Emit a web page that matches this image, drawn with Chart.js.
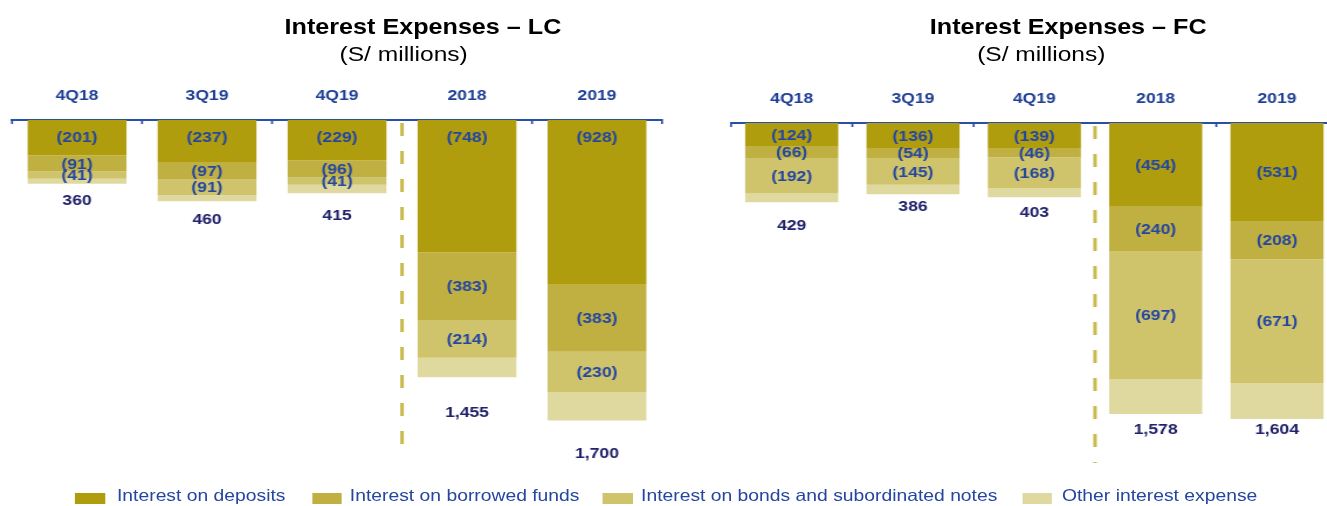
<!DOCTYPE html>
<html>
<head>
<meta charset="utf-8">
<script src="https://cdn.jsdelivr.net/npm/chart.js@4.4.1/dist/chart.umd.min.js"></script>
<style>
  html, body { margin: 0; padding: 0; background: #fff; overflow: hidden; width: 1327px; height: 506px; }
  /* the source slide is stretched horizontally, so the whole stage is too */
  #stage { position: absolute; left: 0; top: 0; width: 1134px; height: 506px;
           transform: scaleX(1.17); transform-origin: 0 0;
           font-family: "Liberation Sans", Arial, sans-serif; }
  .title { position: absolute; top: 16px; font-weight: bold; font-size: 21.5px; line-height: 22px;
           color: #000; white-space: nowrap; transform: translateX(-50%); }
  .sub   { position: absolute; top: 43px; font-size: 21px; line-height: 22px;
           color: #000; white-space: nowrap; transform: translateX(-50%); }
  canvas { position: absolute; top: 0; }
  .sw    { position: absolute; top: 493px; width: 25.6px; height: 11px; }
  .lt    { position: absolute; top: 485px; font-size: 16.5px; line-height: 20px; color: #2446a0; white-space: nowrap; }
</style>
</head>
<body>
<div id="stage">
  <div class="title" style="left:361.5px">Interest Expenses – LC</div>
  <div class="sub" style="left:345px">(S/ millions)</div>
  <div class="title" style="left:913px">Interest Expenses – FC</div>
  <div class="sub" style="left:890px">(S/ millions)</div>
  <canvas id="lcChart" width="580" height="480" style="left:0"></canvas>
  <canvas id="fcChart" width="545" height="480" style="left:610px"></canvas>
  <div id="legend"></div>
</div>

<script>
// ─── Data ────────────────────────────────────────────────
const categories = ['4Q18', '3Q19', '4Q19', '2018', '2019'];
const seriesNames = ['Interest on deposits', 'Interest on borrowed funds',
                     'Interest on bonds and subordinated notes', 'Other interest expense'];

const lcDeposits = [201, 237, 229, 748, 928];
const lcBorrowed = [91, 97, 96, 383, 383];
const lcBonds    = [41, 91, 41, 214, 230];
const lcOther    = [27, 35, 49, 110, 159];
const lcTotals   = [360, 460, 415, 1455, 1700];

const fcDeposits = [124, 136, 139, 454, 531];
const fcBorrowed = [66, 54, 46, 240, 208];
const fcBonds    = [192, 145, 168, 697, 671];
const fcOther    = [47, 51, 50, 187, 194];
const fcTotals   = [429, 386, 403, 1578, 1604];

// ─── Styles ──────────────────────────────────────────────
const colors     = ['#af9d0e', '#c0b042', '#cfc46b', '#dfd9a0'];
const axisBlue   = '#2a4fa8';
const labelBlue  = '#2547a0';
const totalNavy  = '#20216a';
const dashColor  = '#c9ba4c';

// ─── Legend (HTML) ───────────────────────────────────────
const swatchX = [64.1, 266.7, 515.4, 873.5];
const textX   = [100, 299, 547.9, 907.7];
const legend = document.getElementById('legend');
seriesNames.forEach((name, i) => {
  const sw = document.createElement('div');
  sw.className = 'sw';
  sw.style.left = swatchX[i] + 'px';
  sw.style.background = colors[i];
  const t = document.createElement('div');
  t.className = 'lt';
  t.style.left = textX[i] + 'px';
  t.textContent = name;
  legend.appendChild(sw);
  legend.appendChild(t);
});

// ─── Plugin: segment labels, totals, axis ticks, divider ─
const decorations = {
  id: 'decorations',
  afterDatasetsDraw(chart, args, opts) {
    const ctx = chart.ctx;
    const area = chart.chartArea;
    const catW = (area.right - area.left) / categories.length;
    ctx.save();

    // small ticks hanging below the axis line
    ctx.strokeStyle = axisBlue;
    ctx.lineWidth = 1.7;
    for (let k = 0; k <= categories.length; k++) {
      if (k === 3) continue;
      const x = area.left + k * catW;
      ctx.beginPath();
      ctx.moveTo(x, area.top - 1);
      ctx.lineTo(x, area.top + 4);
      ctx.stroke();
    }

    // dashed divider between quarters and years
    const dx = area.left + 3 * catW;
    ctx.strokeStyle = dashColor;
    ctx.lineWidth = 3;
    ctx.setLineDash([13, 15]);
    ctx.beginPath();
    ctx.moveTo(dx, area.top + 3);
    ctx.lineTo(dx, opts.dashEnd);
    ctx.stroke();
    ctx.setLineDash([]);

    ctx.font = 'bold 15px "Liberation Sans", Arial, sans-serif';
    ctx.textAlign = 'center';
    ctx.textBaseline = 'middle';

    // values inside the first three segments
    chart.data.datasets.forEach((ds, i) => {
      if (i > 2) return;
      chart.getDatasetMeta(i).data.forEach((bar, j) => {
        const top = Math.min(bar.y, bar.base);
        let y = (bar.y + bar.base) / 2 + 1;
        if (i === 0 && opts.topAnchor) y = Math.min(y, top + opts.topAnchor);
        ctx.fillStyle = labelBlue;
        ctx.fillText('(' + ds.data[j] + ')', bar.x, y);
      });
    });

    // totals under each bar
    chart.getDatasetMeta(3).data.forEach((bar, j) => {
      const bottom = Math.max(bar.y, bar.base);
      ctx.fillStyle = totalNavy;
      ctx.fillText(opts.totals[j].toLocaleString('en-US'), bar.x, bottom + opts.offsets[j]);
    });

    ctx.restore();
  }
};

function makeStackChart(canvasId, series, totals, cfg) {
  const ctx = document.getElementById(canvasId);
  return new Chart(ctx, {
    type: 'bar',
    data: {
      labels: categories,
      datasets: series.map((data, i) => ({
        label: seriesNames[i],
        data,
        backgroundColor: colors[i],
        borderWidth: 0,
        barPercentage: cfg.barPct,
        categoryPercentage: 1.0,
      }))
    },
    options: {
      responsive: false,
      animation: false,
      devicePixelRatio: 1,
      layout: { padding: { left: cfg.padLeft, right: cfg.padRight, top: cfg.padTop, bottom: 10 } },
      plugins: {
        legend: { display: false },
        tooltip: { enabled: false },
        decorations: { totals, offsets: cfg.offsets, dashEnd: cfg.dashEnd, topAnchor: cfg.topAnchor }
      },
      scales: {
        x: {
          position: 'top',
          stacked: true,
          offset: true,
          afterFit: s => { s.height = 40; },
          grid: { display: false, drawTicks: false },
          border: { display: true, color: axisBlue, width: 2 },
          ticks: { color: '#1f3f94', padding: 15, font: { size: 15, weight: 'bold', family: '"Liberation Sans", Arial, sans-serif' } }
        },
        y: { display: false, stacked: true, reverse: true, min: 0, max: cfg.yMax }
      }
    },
    plugins: [decorations]
  });
}

makeStackChart('lcChart', [lcDeposits, lcBorrowed, lcBonds, lcOther], lcTotals, {
  padLeft: 10.3, padRight: 14.2, padTop: 80, yMax: 1980, barPct: 0.76,
  offsets: [17, 19, 23, 36, 33], dashEnd: 456, topAnchor: 18
});

makeStackChart('fcChart', [fcDeposits, fcBorrowed, fcBonds, fcOther], fcTotals, {
  padLeft: 14.8, padRight: 11.7, padTop: 83, yMax: 1881, barPct: 0.767,
  offsets: [24, 13, 16, 16, 11], dashEnd: 463, topAnchor: 0
});
</script>
</body>
</html>
